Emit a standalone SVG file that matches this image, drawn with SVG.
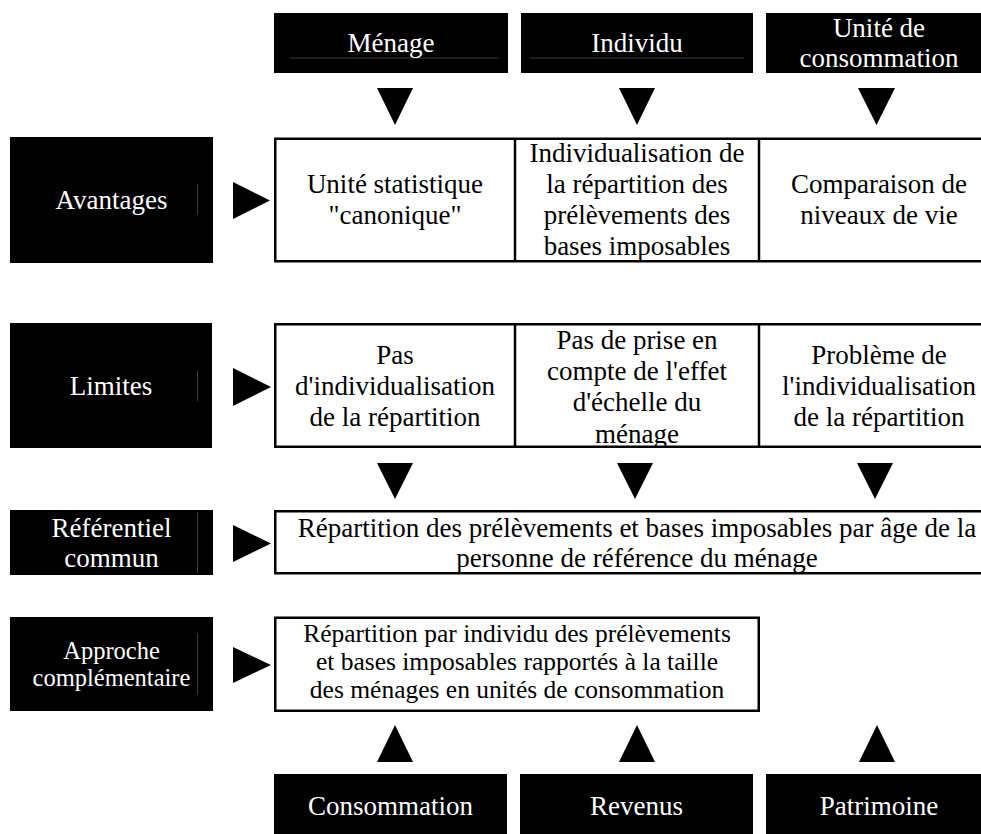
<svg xmlns="http://www.w3.org/2000/svg" width="981" height="834" viewBox="0 0 981 834">
<style>
  .blk { fill: #000; }
  .cell { fill: #fff; stroke: #000; stroke-width: 2.5; }
  .div { stroke: #000; stroke-width: 2.5; }
  .hair { stroke: #3a3a3a; stroke-width: 1; }
  .tw { font-family: "Liberation Serif", "Times New Roman", serif; font-size: 27px; fill: #fff; text-anchor: middle; }
  .tb { font-family: "Liberation Serif", "Times New Roman", serif; font-size: 27px; fill: #000; text-anchor: middle; }
  .sm { font-size: 25.5px; }
  .xs { font-size: 24.5px; }
  .arr { fill: #000; }
</style>
<defs>
  <clipPath id="clipLim2"><rect x="516" y="325" width="242" height="121"/></clipPath>
</defs>
<rect width="981" height="834" fill="#fff"/>

<g id="top-menage">
  <rect class="blk" x="274" y="13" width="234" height="60"/>
  <line class="hair" x1="290" y1="58" x2="499" y2="58"/>
  <text class="tw" x="391" y="52">Ménage</text>
</g>
<g id="top-individu">
  <rect class="blk" x="521" y="13" width="232" height="60"/>
  <line class="hair" x1="530" y1="58" x2="744" y2="58"/>
  <text class="tw" x="637" y="52">Individu</text>
</g>
<g id="top-uc">
  <rect class="blk" x="766" y="13" width="226" height="60"/>
  <text class="tw" x="879" y="37">Unité de</text>
  <text class="tw" x="879" y="67">consommation</text>
</g>

<g id="avantages">
  <rect class="blk" x="10" y="137" width="203" height="126"/>
  <line class="hair" x1="197.5" y1="184" x2="197.5" y2="215"/>
  <text class="tw" x="111.5" y="209">Avantages</text>
</g>
<g id="avantages-cells">
  <rect class="cell" x="275.25" y="138.75" width="725" height="122.5"/>
  <line class="div" x1="515" y1="138" x2="515" y2="262"/>
  <line class="div" x1="759" y1="138" x2="759" y2="262"/>
  <text class="tb" x="395" y="193">Unité statistique</text>
  <text class="tb" x="395" y="224">"canonique"</text>
  <text class="tb" x="637" y="162">Individualisation de</text>
  <text class="tb" x="637" y="193">la répartition des</text>
  <text class="tb" x="637" y="224">prélèvements des</text>
  <text class="tb" x="637" y="255">bases imposables</text>
  <text class="tb" x="879" y="193">Comparaison de</text>
  <text class="tb" x="879" y="224">niveaux de vie</text>
</g>

<g id="limites">
  <rect class="blk" x="10" y="323" width="202" height="125"/>
  <line class="hair" x1="197.5" y1="371" x2="197.5" y2="401"/>
  <text class="tw" x="111" y="395">Limites</text>
</g>
<g id="limites-cells">
  <rect class="cell" x="275.25" y="324.25" width="725" height="122.5"/>
  <line class="div" x1="515" y1="324" x2="515" y2="447"/>
  <line class="div" x1="759" y1="324" x2="759" y2="447"/>
  <text class="tb" x="395" y="364">Pas</text>
  <text class="tb" x="395" y="395">d'individualisation</text>
  <text class="tb" x="395" y="426">de la répartition</text>
  <g clip-path="url(#clipLim2)">
    <text class="tb" x="637" y="349">Pas de prise en</text>
    <text class="tb" x="637" y="380">compte de l'effet</text>
    <text class="tb" x="637" y="411">d'échelle du</text>
    <text class="tb" x="637" y="443">ménage</text>
  </g>
  <text class="tb" x="879" y="364">Problème de</text>
  <text class="tb" x="879" y="395">l'individualisation</text>
  <text class="tb" x="879" y="426">de la répartition</text>
</g>

<g id="referentiel">
  <rect class="blk" x="10" y="510" width="203" height="65"/>
  <line class="hair" x1="197.5" y1="512" x2="197.5" y2="573"/>
  <text class="tw" x="111.5" y="537">Référentiel</text>
  <text class="tw" x="111.5" y="567">commun</text>
</g>
<g id="referentiel-box">
  <rect class="cell" x="275.25" y="511.25" width="725" height="62"/>
  <text class="tb" x="637" y="537">Répartition des prélèvements et bases imposables par âge de la</text>
  <text class="tb" x="637" y="567">personne de référence du ménage</text>
</g>

<g id="approche">
  <rect class="blk" x="10" y="617" width="203" height="94"/>
  <line class="hair" x1="197.5" y1="633" x2="197.5" y2="695"/>
  <text class="tw xs" x="111.5" y="659">Approche</text>
  <text class="tw xs" x="111.5" y="686">complémentaire</text>
</g>
<g id="approche-box">
  <rect class="cell" x="275.25" y="617.75" width="483.5" height="93"/>
  <text class="tb sm" x="517" y="641.5">Répartition par individu des prélèvements</text>
  <text class="tb sm" x="517" y="670">et bases imposables rapportés à la taille</text>
  <text class="tb sm" x="517" y="698">des ménages en unités de consommation</text>
</g>

<g id="bottom-consommation">
  <rect class="blk" x="274" y="774" width="233" height="60"/>
  <text class="tw" x="390.5" y="815">Consommation</text>
</g>
<g id="bottom-revenus">
  <rect class="blk" x="520" y="774" width="233" height="60"/>
  <text class="tw" x="636.5" y="815">Revenus</text>
</g>
<g id="bottom-patrimoine">
  <rect class="blk" x="766" y="774" width="226" height="60"/>
  <text class="tw" x="879" y="815">Patrimoine</text>
</g>

<g id="connectors">
  <polygon class="arr" points="377,88 413,88 395,125"/>
  <polygon class="arr" points="619,88 655,88 637,125"/>
  <polygon class="arr" points="858,88 895,88 876.5,125"/>

  <polygon class="arr" points="233,182 270,200.5 233,219"/>
  <polygon class="arr" points="233,368 271,387 233,406"/>

  <polygon class="arr" points="377,463 413,463 395,499"/>
  <polygon class="arr" points="617,463 653,463 635,499"/>
  <polygon class="arr" points="857,463 893,463 875,499"/>

  <polygon class="arr" points="233,525 271,543.5 233,562"/>
  <polygon class="arr" points="233,647 271,665 233,683"/>

  <polygon class="arr" points="377,762 413,762 395,725"/>
  <polygon class="arr" points="619,762 655,762 637,725"/>
  <polygon class="arr" points="859,762 895,762 877,725"/>
</g>
</svg>
